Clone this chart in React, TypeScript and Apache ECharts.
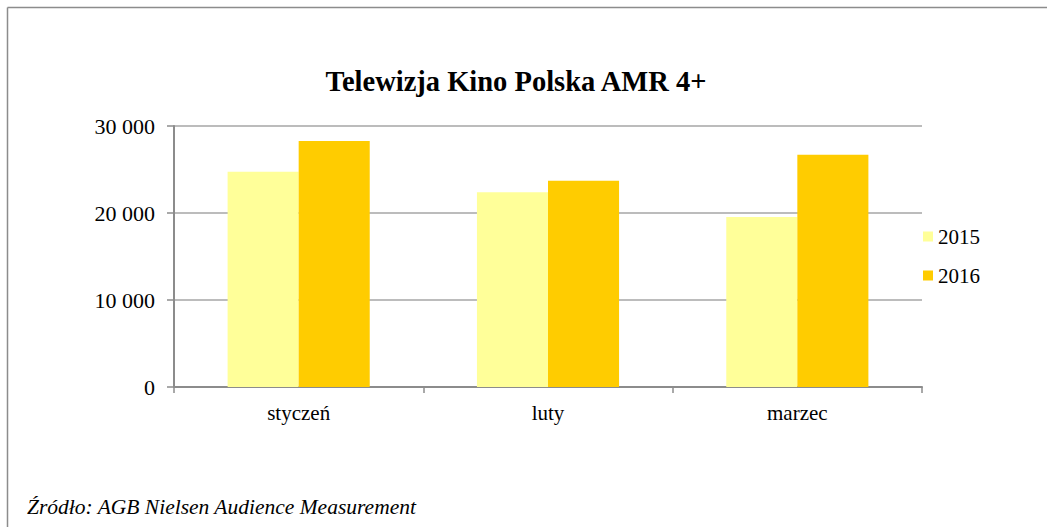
import React, { useEffect, useRef } from "react";
import * as echarts from "echarts";

const categories = ["styczeń", "luty", "marzec"];
const series2015 = [24750, 22380, 19540];
const series2016 = [28270, 23710, 26700];
const yTicks = [0, 10000, 20000, 30000];

const FONT = "Liberation Serif";

export default function App() {
  const ref = useRef<HTMLDivElement>(null);
  useEffect(() => {
    if (!ref.current) return;
    const chart = echarts.init(ref.current, undefined, { renderer: "svg" });
    chart.setOption({
      animation: false,
      backgroundColor: "#ffffff",
      title: {
        text: "Telewizja Kino Polska AMR 4+",
        left: 511,
        textAlign: "center",
        top: 62,
        textStyle: { fontFamily: FONT, fontSize: 28.5, fontWeight: "bold", color: "#000" },
      },
      legend: {
        orient: "vertical",
        left: 918,
        top: 221,
        itemWidth: 10,
        itemHeight: 10,
        itemGap: 18,
        icon: "rect",
        textStyle: { fontFamily: FONT, fontSize: 21, color: "#000" },
        data: ["2015", "2016"],
      },
      grid: { left: 174, right: 125, top: 126, bottom: 140, containLabel: false },
      xAxis: {
        type: "category",
        data: categories,
        axisLine: { lineStyle: { color: "#8c8c8c", width: 2 } },
        axisTick: { show: true, length: 6, lineStyle: { color: "#8c8c8c", width: 1.5 } },
        axisLabel: { fontFamily: FONT, fontSize: 21, color: "#000", margin: 15 },
      },
      yAxis: {
        type: "value",
        min: yTicks[0],
        max: yTicks[yTicks.length - 1],
        interval: 10000,
        axisLine: { show: true, lineStyle: { color: "#8c8c8c", width: 2 } },
        axisTick: { show: true, length: 7, lineStyle: { color: "#8c8c8c", width: 1.5 } },
        splitLine: { lineStyle: { color: "#a6a6a6", width: 1.5 } },
        axisLabel: {
          fontFamily: FONT,
          fontSize: 22,
          color: "#000",
          margin: 19,
          formatter: (v: number) => String(v).replace(/\B(?=(\d{3})+(?!\d))/g, " "),
        },
      },
      series: [
        {
          name: "2015",
          type: "bar",
          data: series2015,
          itemStyle: { color: "#FFFF99" },
          barGap: "0%",
          barCategoryGap: "43%",
        },
        {
          name: "2016",
          type: "bar",
          data: series2016,
          itemStyle: { color: "#FFCC00" },
          barGap: "0%",
          barCategoryGap: "43%",
        },
      ],
      graphic: [
        {
          type: "line",
          shape: { x1: 7.5, y1: 7.5, x2: 1047, y2: 7.5 },
          style: { stroke: "#8c8c8c", lineWidth: 1.5 },
        },
        {
          type: "line",
          shape: { x1: 7.5, y1: 7.5, x2: 7.5, y2: 527 },
          style: { stroke: "#8c8c8c", lineWidth: 1.5 },
        },
        {
          type: "text",
          left: 27,
          top: 496,
          style: {
            text: "Źródło: AGB Nielsen Audience Measurement",
            fontFamily: FONT,
            fontStyle: "italic",
            fontSize: 21.5,
            fill: "#000",
          },
        },
      ],
    });
    return () => chart.dispose();
  }, []);
  return (
    <div
      ref={ref}
      style={{ position: "fixed", left: 0, top: 0, width: 1047, height: 527 }}
    />
  );
}
